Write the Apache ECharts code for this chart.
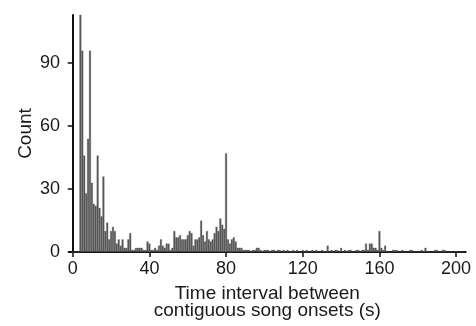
<!DOCTYPE html>
<html>
<head>
<meta charset="utf-8">
<script src="https://cdn.jsdelivr.net/npm/echarts@6/dist/echarts.min.js"></script>
<style>html,body{margin:0;padding:0;background:#fff}#c{width:476px;height:326px}</style>
</head>
<body>
<div id="c"></div>
<script>
// Histogram counts, one value per 1-s bin (index = seconds)
const counts = [
  0, 0, 0, 0, 120, 96, 46, 28, 54, 96,          // 0-9
  33, 23, 22, 46, 21, 17, 36, 10, 14, 6,         // 10-19
  10, 12, 10, 4, 6, 3, 6, 2, 2, 6,               // 20-29
  9, 1, 1, 2, 2, 2, 2, 1, 1, 5,                  // 30-39
  4, 1, 1, 2, 1, 3, 6, 3, 2, 4,                  // 40-49
  4, 1, 2, 10, 7, 7, 8, 6, 6, 6,                 // 50-59
  8, 10, 9, 3, 6, 6, 7, 15, 8, 5,                // 60-69
  10, 6, 5, 6, 9, 12, 10, 16, 13, 11,            // 70-79
  47, 6, 4, 6, 7, 5, 2, 2, 2, 1,                 // 80-89
  1, 1, 1, 0, 1, 1, 2, 2, 1, 0,                  // 90-99
  1, 1, 1, 0, 1, 1, 0, 1, 1, 0,                  // 100-109
  1, 0, 1, 0, 0, 1, 0, 1, 0, 0,                  // 110-119
  1, 0, 1, 0, 0, 1, 0, 1, 0, 0,                  // 120-129
  1, 0, 0, 3, 0, 1, 0, 1, 1, 0,                  // 130-139
  2, 0, 1, 0, 1, 1, 0, 0, 1, 1,                  // 140-149
  0, 1, 1, 4, 1, 4, 4, 2, 2, 1,                  // 150-159
  10, 2, 1, 3, 0, 0, 0, 1, 1, 1,                 // 160-169
  0, 0, 1, 0, 0, 0, 1, 1, 0, 0,                  // 170-179
  0, 0, 1, 0, 2, 0, 0, 0, 0, 1,                  // 180-189
  1, 0, 0, 1, 1, 0, 0, 0, 0, 0,                  // 190-199
  0, 0, 0, 0, 0                                  // 200-204
];
const xTicks = [0, 40, 80, 120, 160, 200];
const yTicks = [0, 30, 60, 90];
const xName = 'Time interval between\ncontiguous song onsets (s)';
const yName = 'Count';

const data = counts.map((c, i) => [i, c]);
const font = 'Liberation Sans, Arial, Helvetica, sans-serif';
const txt = '#1a1a1a';

const chart = echarts.init(document.getElementById('c'), null, {renderer: 'canvas'});
chart.setOption({
  animation: false,
  backgroundColor: '#fff',
  grid: {left: 68.9, right: 10.3, top: 15, bottom: 74, containLabel: false, outerBoundsMode: 'none'},
  xAxis: {
    type: 'value', min: -2, max: 205,
    name: xName, nameLocation: 'middle', nameGap: 33, nameMoveOverlap: false,
    nameTextStyle: {color: txt, fontSize: 19, fontFamily: font, lineHeight: 17},
    axisLine: {show: true, onZero: true, lineStyle: {color: '#111', width: 2}},
    axisTick: {show: true, length: 5, customValues: xTicks, lineStyle: {color: '#111', width: 1.5}},
    axisLabel: {customValues: xTicks, color: txt, fontSize: 18, fontFamily: font, margin: 8},
    splitLine: {show: false}
  },
  yAxis: {
    type: 'value', min: 0, max: 113,
    name: yName, nameLocation: 'middle', nameGap: 34, nameMoveOverlap: false,
    nameTextStyle: {color: txt, fontSize: 19, fontFamily: font},
    axisLine: {show: true, onZero: true, lineStyle: {color: '#111', width: 2}},
    axisTick: {show: true, length: 5, customValues: yTicks, lineStyle: {color: '#111', width: 1.5}},
    axisLabel: {customValues: yTicks, color: txt, fontSize: 18, fontFamily: font, margin: 9},
    splitLine: {show: false}
  },
  series: [{
    type: 'bar',
    data: data,
    barWidth: '100%',
    barCategoryGap: '0%',
    clip: true,
    itemStyle: {color: '#555555', borderColor: '#5e5e5e', borderWidth: 0.3}
  }]
});
</script>
</body>
</html>
